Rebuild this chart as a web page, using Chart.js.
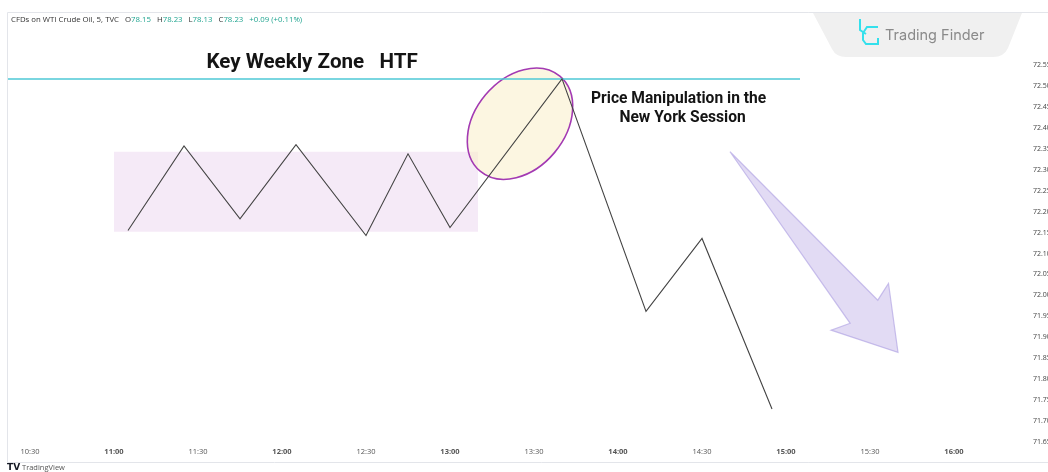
<!DOCTYPE html>
<html>
<head>
<meta charset="utf-8">
<script src="https://cdn.jsdelivr.net/npm/chart.js@4.4.1/dist/chart.umd.min.js"></script>
<style>
  html, body { margin: 0; padding: 0; background: #fff; overflow: hidden; }
  #wrap { position: absolute; left: 0; top: 0; width: 1075px; height: 472px; }
</style>
</head>
<body>
<div id="wrap"><canvas id="chart" width="1075" height="472"></canvas></div>
<script>
// time axis labels (5 min candles, 30 min ticks)
const timeTicks = ['10:30', '11:00', '11:30', '12:00', '12:30', '13:00', '13:30', '14:00', '14:30', '15:00', '15:30', '16:00'];
const priceTicks = [72.55, 72.50, 72.45, 72.40, 72.35, 72.30, 72.25, 72.20, 72.15, 72.10, 72.05, 72.00, 71.95, 71.90, 71.85, 71.80, 71.75, 71.70, 71.65];

// price path swings
const pathTimes = ['11:05', '11:25', '11:45', '12:05', '12:30', '12:45', '13:00', '13:40', '14:10', '14:30', '14:55'];
const pathPrices = [72.155, 72.357, 72.183, 72.360, 72.143, 72.338, 72.162, 72.517, 71.962, 72.136, 71.729];

// key weekly level
const keyLevelTimes = ['10:20', '15:05'];
const keyLevelPrice = 72.517;

// range box
const zoneTimes = ['11:00', '13:10'];
const zonePrices = [72.343, 72.152];

// manipulation highlight
const focusTime = '13:25';
const focusPrice = 72.41;

// expected move arrow
const arrowTimes = ['14:40', '15:40'];
const arrowPrices = [72.343, 71.864];

const headerName = 'CFDs on WTI Crude Oil, 5, TVC';
const headerOhlc = [['O', '78.15'], ['H', '78.23'], ['L', '78.13'], ['C', '78.23']];
const headerChange = '+0.09 (+0.11%)';

const toMin = (t) => {
    const [h, m] = t.split(':').map(Number);
    return h * 60 + m;
};
const fmtTime = (v) => {
    const h = Math.floor(v / 60);
    const m = Math.round(v % 60);
    return h + ':' + String(m).padStart(2, '0');
};

const annotations = {
    id: 'annotations',
    beforeDatasetsDraw(chart) {
        const { ctx, scales: { x, y }, chartArea } = chart;
        ctx.save();
        ctx.beginPath();
        ctx.rect(chartArea.left, chartArea.top, chartArea.right - chartArea.left, chartArea.bottom - chartArea.top);
        ctx.clip();

        // range box
        const x1 = x.getPixelForValue(toMin(zoneTimes[0]));
        const x2 = x.getPixelForValue(toMin(zoneTimes[1]));
        const y1 = y.getPixelForValue(zonePrices[0]);
        const y2 = y.getPixelForValue(zonePrices[1]);
        ctx.fillStyle = 'rgba(228, 200, 234, 0.38)';
        ctx.fillRect(x1, y1, x2 - x1, y2 - y1);

        // ellipse
        const cx = x.getPixelForValue(toMin(focusTime));
        const cy = y.getPixelForValue(focusPrice);
        ctx.beginPath();
        ctx.ellipse(cx, cy, 62, 45, -50 * Math.PI / 180, 0, Math.PI * 2);
        ctx.fillStyle = 'rgba(250, 240, 205, 0.6)';
        ctx.fill();
        ctx.lineWidth = 1.6;
        ctx.strokeStyle = '#a33ab3';
        ctx.stroke();
        ctx.restore();
    },
    afterDatasetsDraw(chart) {
        const { ctx, scales: { x, y } } = chart;
        ctx.save();

        // arrow
        const tx = x.getPixelForValue(toMin(arrowTimes[0]));
        const ty = y.getPixelForValue(arrowPrices[0]);
        const hx = x.getPixelForValue(toMin(arrowTimes[1]));
        const hy = y.getPixelForValue(arrowPrices[1]);
        const len = Math.hypot(hx - tx, hy - ty);
        const ux = (hx - tx) / len, uy = (hy - ty) / len;
        const nx = -uy, ny = ux;
        const pt = (a, b) => [hx + ux * a + nx * b, hy + uy * a + ny * b];
        const poly = [[tx, ty], pt(-53, -18), pt(-59, -37), [hx, hy], pt(-60, 37), pt(-53, 18)];
        ctx.beginPath();
        poly.forEach((p, i) => i ? ctx.lineTo(p[0], p[1]) : ctx.moveTo(p[0], p[1]));
        ctx.closePath();
        ctx.fillStyle = 'rgba(190, 176, 230, 0.45)';
        ctx.fill();
        ctx.lineWidth = 1.2;
        ctx.strokeStyle = 'rgba(180, 166, 228, 0.7)';
        ctx.stroke();

        // titles
        ctx.fillStyle = '#141414';
        ctx.textBaseline = 'alphabetic';
        ctx.font = 'bold 20.6px Roboto';
        ctx.textAlign = 'left';
        ctx.fillText('Key Weekly Zone   HTF', x.getPixelForValue(toMin('11:33')), y.getPixelForValue(72.543));
        ctx.font = 'bold 15.6px Roboto';
        ctx.textAlign = 'center';
        const mx = x.getPixelForValue(toMin('14:22'));
        ctx.fillText('Price Manipulation in the', mx - 1, y.getPixelForValue(72.4595));
        ctx.fillText('New York Session', mx + 3, y.getPixelForValue(72.414));
        ctx.restore();
    },
    afterDraw(chart) {
        const { ctx } = chart;
        ctx.save();

        // frame
        ctx.strokeStyle = '#e3e5ea';
        ctx.lineWidth = 1;
        ctx.beginPath();
        ctx.moveTo(7.5, 462.5);
        ctx.lineTo(7.5, 12.5);
        ctx.lineTo(1075, 12.5);
        ctx.moveTo(7.5, 462.5);
        ctx.lineTo(1075, 462.5);
        ctx.stroke();

        // header
        ctx.textBaseline = 'middle';
        ctx.textAlign = 'left';
        ctx.font = '7.8px "Open Sans"';
        let px = 11;
        ctx.fillStyle = '#333';
        ctx.fillText(headerName, px, 20);
        px += ctx.measureText(headerName).width + 6;
        headerOhlc.forEach(([k, v]) => {
            ctx.fillStyle = '#333';
            ctx.fillText(k, px, 20);
            px += ctx.measureText(k).width;
            ctx.fillStyle = '#22a591';
            ctx.fillText(v, px, 20);
            px += ctx.measureText(v).width + 6;
        });
        ctx.fillText(headerChange, px, 20);

        // logo badge
        ctx.fillStyle = '#f0f0f0';
        ctx.beginPath();
        ctx.moveTo(813, 13);
        ctx.lineTo(1022, 13);
        ctx.lineTo(1008, 48);
        ctx.quadraticCurveTo(1004, 57, 993, 57);
        ctx.lineTo(846, 57);
        ctx.quadraticCurveTo(836, 57, 832, 49);
        ctx.closePath();
        ctx.fill();

        ctx.strokeStyle = '#34e0ec';
        ctx.lineWidth = 2;
        ctx.beginPath();
        ctx.moveTo(860, 19);
        ctx.lineTo(860, 30);
        ctx.lineTo(866, 34);
        ctx.moveTo(878, 27);
        ctx.lineTo(867, 27);
        ctx.lineTo(863, 33);
        ctx.lineTo(863, 40);
        ctx.lineTo(866, 44);
        ctx.lineTo(878, 44);
        ctx.lineTo(878, 38);
        ctx.stroke();

        ctx.fillStyle = '#8a8a8a';
        ctx.font = '14.5px Inter';
        ctx.textBaseline = 'middle';
        ctx.fillText('Trading Finder', 885, 36);

        // footer
        ctx.fillStyle = '#131722';
        ctx.font = 'bold 9px "DejaVu Sans"';
        ctx.fillText('TV', 7, 468);
        ctx.fillStyle = '#555';
        ctx.font = '7.5px "Open Sans"';
        ctx.fillText('TradingView', 22, 468);
        ctx.restore();
    }
};

new Chart(document.getElementById('chart'), {
    type: 'line',
    data: {
        datasets: [
            {
                data: pathTimes.map((t, i) => ({ x: toMin(t), y: pathPrices[i] })),
                borderColor: '#444',
                borderWidth: 1.1,
                pointRadius: 0,
                tension: 0
            },
            {
                data: keyLevelTimes.map((t) => ({ x: toMin(t), y: keyLevelPrice })),
                borderColor: '#4ec8d6',
                borderWidth: 1.5,
                pointRadius: 0
            }
        ]
    },
    options: {
        responsive: false,
        animation: false,
        layout: { padding: { left: 8, top: 12, right: 0, bottom: 0 } },
        plugins: { legend: { display: false }, tooltip: { enabled: false } },
        scales: {
            x: {
                type: 'linear',
                min: 622.14,
                max: 985,
                grid: { display: false, drawTicks: false },
                border: { display: false },
                afterBuildTicks: (scale) => { scale.ticks = timeTicks.map((t) => ({ value: toMin(t) })); },
                afterFit: (scale) => { scale.height = 26; },
                ticks: {
                    autoSkip: false,
                    maxRotation: 0,
                    padding: 1,
                    color: '#555',
                    font: (c) => ({ family: '"Open Sans"', size: 7.5, weight: (c.tick && c.tick.value % 60 === 0) ? 'bold' : 'normal' }),
                    callback: (v) => fmtTime(v)
                }
            },
            y: {
                position: 'right',
                min: 71.6405,
                max: 72.6738,
                grid: { display: false, drawTicks: false },
                border: { display: false },
                afterBuildTicks: (scale) => { scale.ticks = priceTicks.map((v) => ({ value: v })); },
                afterFit: (scale) => { scale.width = 51; },
                ticks: {
                    padding: 9,
                    color: '#444',
                    font: { family: '"Open Sans"', size: 7 },
                    callback: (v) => v.toFixed(2)
                }
            }
        }
    },
    plugins: [annotations]
});
</script>
</body>
</html>
